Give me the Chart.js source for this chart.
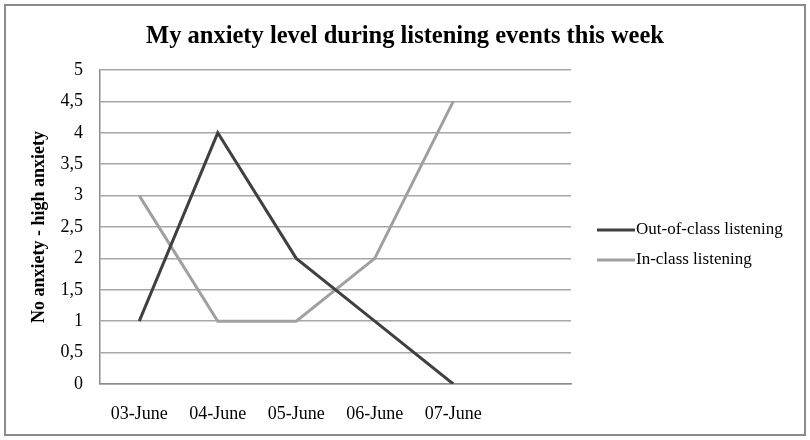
<!DOCTYPE html>
<html>
<head>
<meta charset="utf-8">
<script src="https://cdn.jsdelivr.net/npm/chart.js@4.4.1/dist/chart.umd.min.js"></script>
<style>
  html, body { margin: 0; padding: 0; background: #fff; }
  #wrap { position: relative; width: 810px; height: 440px; }
  #frame { position: absolute; left: 4px; top: 4px; width: 802px; height: 432px;
           border: 2px solid #8c8c8c; box-sizing: border-box; pointer-events: none; }
</style>
</head>
<body>
<div id="wrap">
  <canvas id="chart" width="810" height="440"></canvas>
  <div id="frame"></div>
</div>
<script>
/* ── Data ── */
const days       = ['03-June', '04-June', '05-June', '06-June', '07-June', ''];
const outOfClass = [1, 4, 2, 1, 0, null];
const inClass    = [3, 1, 1, 2, 4.5, null];
const yTicks     = [0, 0.5, 1, 1.5, 2, 2.5, 3, 3.5, 4, 4.5, 5];

const SERIF = '"Liberation Serif", "Times New Roman", serif';

/* ── Title + legend drawn by hand ── */
const extras = {
    id: 'extras',
    afterDraw(chart) {
        const { ctx } = chart;
        ctx.save();
        ctx.fillStyle = '#000';
        ctx.textAlign = 'center';
        ctx.textBaseline = 'middle';
        ctx.font = 'bold 24.5px ' + SERIF;
        ctx.fillText('My anxiety level during listening events this week', 405, 37);

        ctx.textAlign = 'left';
        ctx.font = '17px ' + SERIF;
        chart.data.datasets.forEach((ds, i) => {
            const y = 230 + i * 30;
            ctx.strokeStyle = ds.borderColor;
            ctx.lineWidth = 3;
            ctx.beginPath();
            ctx.moveTo(597, y);
            ctx.lineTo(635, y);
            ctx.stroke();
            ctx.fillText(ds.label, 636, y);
        });
        ctx.restore();
    }
};

new Chart(document.getElementById('chart').getContext('2d'), {
    type: 'line',
    data: {
        labels: days,
        datasets: [
            { label: 'Out-of-class listening', data: outOfClass,
              borderColor: '#404040', borderWidth: 3, pointRadius: 0, tension: 0 },
            { label: 'In-class listening', data: inClass,
              borderColor: '#a0a0a0', borderWidth: 3, pointRadius: 0, tension: 0 }
        ]
    },
    options: {
        responsive: false,
        animation: false,
        layout: { padding: { left: 29, right: 239, top: 70, bottom: 0 } },
        scales: {
            x: {
                offset: true,
                grid: { display: false, drawTicks: false },
                border: { color: '#8c8c8c', width: 1.5 },
                ticks: { color: '#000', font: { family: SERIF, size: 18 }, padding: 19, maxRotation: 0, autoSkip: false },
                afterFit: s => { s.height = 56; }
            },
            y: {
                min: 0, max: 5,
                afterBuildTicks: s => { s.ticks = yTicks.map(v => ({ value: v })); },
                grid: { color: '#a6a6a6', lineWidth: 1.5, drawTicks: false },
                border: { color: '#8c8c8c', width: 1.5 },
                ticks: { color: '#000', font: { family: SERIF, size: 18 }, padding: 17,
                         callback: v => String(v).replace('.', ',') },
                title: { display: true, text: 'No anxiety - high anxiety', color: '#000',
                         font: { family: SERIF, size: 18, weight: 'bold' }, padding: { top: 0, bottom: 0 } },
                afterFit: s => { s.width = 71; }
            }
        },
        plugins: { legend: { display: false }, title: { display: false }, tooltip: { enabled: false } }
    },
    plugins: [extras]
});
</script>
</body>
</html>
